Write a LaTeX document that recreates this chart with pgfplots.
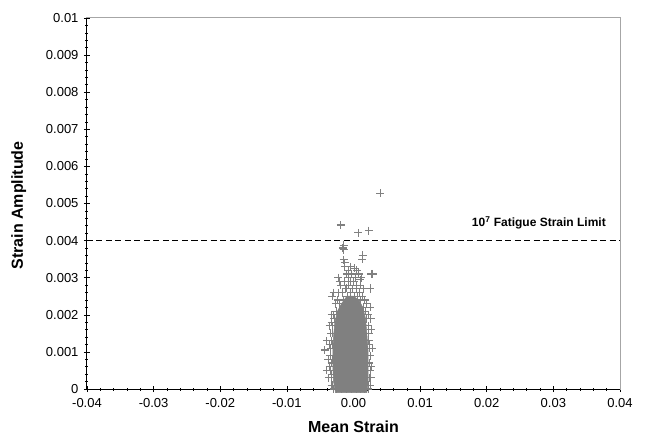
\documentclass[border=0pt]{standalone}
\usepackage{fontspec}
\setmainfont{Liberation Sans}
\usepackage{pgfplots}
\pgfplotsset{compat=1.18}

\definecolor{cloud}{RGB}{128,128,128}

\begin{document}
\begin{tikzpicture}
\begin{axis}[
    scale only axis,
    width=533bp, height=371bp,
    xmin=-0.04, xmax=0.04,
    ymin=0, ymax=0.01,
    clip=false,
    scaled ticks=false,
    xtick={-0.04,-0.03,-0.02,-0.01,0,0.01,0.02,0.03,0.04},
    xticklabels={-0.04,-0.03,-0.02,-0.01,0.00,0.01,0.02,0.03,0.04},
    ytick={0,0.001,0.002,0.003,0.004,0.005,0.006,0.007,0.008,0.009,0.01},
    yticklabels={0,0.001,0.002,0.003,0.004,0.005,0.006,0.007,0.008,0.009,0.01},
    minor x tick num=4,
    minor y tick num=4,
    xtick pos=lower, ytick pos=left,
    tick align=center,
    major tick length=6bp,
    minor tick length=3bp,
    tick style={black, line width=0.6bp},
    axis line style={gray!70, line width=1bp},
    /pgf/number format/assume math mode=true,
    ticklabel style={font=\fontsize{13bp}{15bp}\selectfont},
    xticklabel style={yshift=-3bp},
    yticklabel style={xshift=-2bp},
    xlabel={Mean Strain},
    ylabel={Strain Amplitude},
    label style={font=\fontsize{16bp}{18bp}\selectfont\bfseries},
    xlabel style={at={(axis description cs:0.5,-0.102)}, anchor=center},
    ylabel style={at={(axis description cs:-0.128,0.495)}, anchor=center, rotate=0},
]

% dense core of the cloud (thousands of overlapping markers)
\addplot[draw=cloud, fill=cloud, line width=0.5bp] coordinates {
    (-0.0027,-0.0001) (-0.0030,0.0002) (-0.0031,0.0006) (-0.0031,0.0010)
    (-0.0030,0.0014) (-0.0028,0.0018) (-0.0024,0.0021) (-0.0018,0.0023)
    (-0.0010,0.0025) (0.0000,0.0025) (0.0008,0.0024) (0.0014,0.0022)
    (0.0018,0.0019) (0.0020,0.0015) (0.0022,0.0010) (0.0022,0.0006)
    (0.0022,0.0002) (0.0020,-0.0001) (-0.0027,-0.0001)
} -- cycle;

% individual markers around the core and outliers
\addplot[only marks, mark=+, mark size=4bp, cloud,
         mark options={line width=1.1bp}] coordinates {
    % bottom row
    (-0.0030,0.0000) (-0.0025,0.0000) (-0.0018,0.0000) (-0.0010,0.0000)
    (-0.0003,0.0000) (0.0004,0.0000) (0.0011,0.0000) (0.0017,0.0000)
    (0.0022,0.0000) (-0.0033,0.0001) (0.0025,0.0001)
    % left edge
    (-0.0032,0.0001) (-0.0033,0.0003) (-0.0034,0.0005) (-0.0033,0.0007)
    (-0.0035,0.0009) (-0.0034,0.0011) (-0.0033,0.0013) (-0.0032,0.0015)
    (-0.0031,0.0017) (-0.0029,0.0019) (-0.0036,0.0006) (-0.0036,0.0012)
    (-0.0032,0.0008) (-0.0033,0.0004) (-0.0032,0.0012) (-0.0034,0.0015)
    (-0.0040,0.0005) (-0.0043,0.00105) (-0.0040,0.0013) (-0.0038,0.0008)
    (-0.0036,0.0017) (-0.0033,0.0018) (-0.0037,0.0003) (-0.0030,0.0020)
    % right edge
    (0.0023,0.0001) (0.0024,0.0003) (0.0025,0.0005) (0.0024,0.0007)
    (0.0025,0.0009) (0.0024,0.0011) (0.0023,0.0013) (0.0023,0.0015)
    (0.0022,0.0017) (0.0020,0.0019) (0.0027,0.0006) (0.0027,0.0016)
    (0.0025,0.0022) (0.0024,0.0012) (0.0028,0.0011) (0.0026,0.0003)
    (0.0022,0.0020) (0.0026,0.0019)
    % upper fringe
    (-0.0026,0.0021) (-0.0021,0.0023) (-0.0015,0.0024) (-0.0009,0.0025)
    (-0.0004,0.0026) (0.0001,0.0025) (0.0006,0.0025) (0.0011,0.0024)
    (0.0015,0.0022) (0.0018,0.0021) (-0.0024,0.0024) (-0.0017,0.0026)
    (-0.0012,0.0027) (-0.0007,0.0028) (-0.0001,0.0027) (0.0004,0.0027)
    (0.0009,0.0026) (0.0013,0.0025) (0.0017,0.0024) (-0.0019,0.0028)
    (-0.0013,0.0029) (-0.0008,0.0030) (0.0000,0.0029) (0.0005,0.0028)
    (0.0010,0.0028) (0.0015,0.0027) (-0.0021,0.0029) (-0.0010,0.0031)
    (-0.0003,0.0031) (0.0003,0.0030) (0.0008,0.0031) (0.0012,0.0030)
    (-0.0027,0.0023) (-0.0022,0.0026) (0.0020,0.0023) (-0.0005,0.0029)
    % scattered outliers
    (-0.0030,0.0026) (-0.0032,0.0025) (0.0025,0.00271) (-0.0010,0.00272)
    (0.0010,0.00294) (-0.0023,0.0030) (0.0007,0.00312) (0.0002,0.00326)
    (-0.0005,0.0033) (0.0027,0.0031) (0.0029,0.0031) (-0.0013,0.0033)
    (-0.0013,0.0034) (-0.0015,0.00348) (0.0014,0.00361) (0.0013,0.0035)
    (-0.0016,0.0038) (-0.0015,0.00375) (-0.0015,0.00388) (0.0025,0.0027)
    (0.0023,0.00427) (0.0007,0.00421) (-0.0019,0.00442) (0.0040,0.00528)
    (0.0025,0.0022) (-0.0033,0.0020) (-0.0008,0.0032) (0.0005,0.0032)
};

% fatigue limit
\addplot[black, dash pattern=on 6bp off 3.5bp, line width=1.7bp]
    coordinates {(-0.04,0.004) (0.04,0.004)};
\node[anchor=east, font=\fontsize{12bp}{14bp}\selectfont\bfseries]
    at (axis cs:0.0384,0.00448) {10\textsuperscript{7} Fatigue Strain Limit};

% dark left and bottom axis lines
\draw[black, line width=1bp] (rel axis cs:0,1) -- (rel axis cs:0,0) -- (rel axis cs:1,0);
\end{axis}
\pgfresetboundingbox
\path (current axis.south west) ++(-87bp,-51bp) rectangle ++(647bp,440bp);
\end{tikzpicture}
\end{document}
